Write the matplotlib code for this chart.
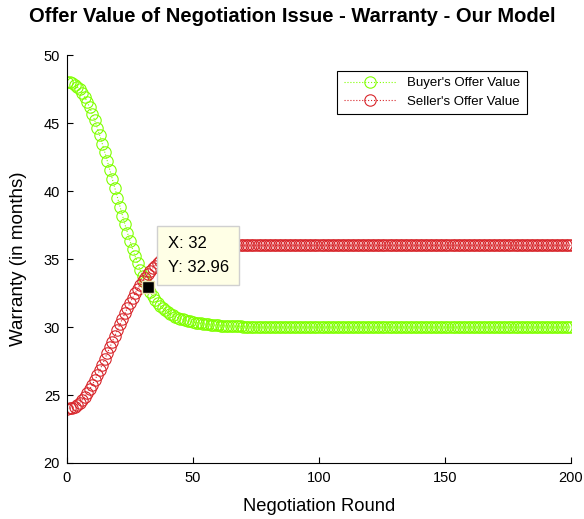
import numpy as np
import matplotlib
matplotlib.use("Agg")
import matplotlib.pyplot as plt

plt.rcParams['font.family'] = ['Liberation Sans', 'DejaVu Sans']

# negotiation rounds and offer values
rounds = list(range(0, 201))

buyer_transition = [
    48.00, 47.99, 47.93, 47.83, 47.68, 47.48, 47.23, 46.92, 46.56, 46.15,
    45.70, 45.20, 44.66, 44.09, 43.49, 42.86, 42.21, 41.54, 40.87, 40.19,
    39.52, 38.85, 38.19, 37.55, 36.92, 36.33, 35.75, 35.21, 34.69, 34.20,
    33.75, 33.33, 32.96, 32.59, 32.27, 31.98, 31.76, 31.56, 31.38, 31.22,
    31.08, 30.96, 30.86, 30.77, 30.69, 30.62, 30.56, 30.50, 30.45, 30.41,
    30.37, 30.33, 30.30, 30.27, 30.24, 30.22, 30.20, 30.18, 30.16, 30.14,
    30.13, 30.11, 30.10, 30.09, 30.08, 30.07, 30.06, 30.05, 30.04, 30.04,
    30.03, 30.03, 30.02, 30.02, 30.02, 30.01]
buyer_offer = buyer_transition + [30.0] * (len(rounds) - len(buyer_transition))

seller_transition = [
    24.00, 24.02, 24.07, 24.15, 24.28, 24.44, 24.64, 24.87, 25.13, 25.42,
    25.74, 26.08, 26.45, 26.83, 27.23, 27.65, 28.07, 28.50, 28.92, 29.35,
    29.78, 30.20, 30.61, 31.01, 31.40, 31.77, 32.13, 32.47, 32.79, 33.09,
    33.38, 33.64, 33.89, 34.12, 34.33, 34.52, 34.69, 34.85, 35.00, 35.12,
    35.24, 35.34, 35.43, 35.51, 35.58, 35.64, 35.70, 35.74, 35.79, 35.82,
    35.85, 35.88, 35.90, 35.92, 35.93, 35.95, 35.96, 35.97, 35.97, 35.98,
    35.98]
seller_offer = seller_transition + [36.0] * (len(rounds) - len(seller_transition))

tip_round = 32

fig = plt.figure(figsize=(5.84, 5.19), dpi=100)
ax = fig.add_axes([0.1147, 0.1079, 0.863, 0.786])

green = '#80ff00'
red = '#d8262b'
ax.plot(rounds, buyer_offer, linestyle=':', color=green, linewidth=0.8,
        marker='o', markersize=8.2, markerfacecolor='none', markeredgewidth=0.8,
        label="Buyer's Offer Value")
ax.plot(rounds, seller_offer, linestyle=':', color=red, linewidth=0.8,
        marker='o', markersize=8.2, markerfacecolor='none', markeredgewidth=0.8,
        label="Seller's Offer Value")

# data tip
ty = buyer_offer[tip_round]
ax.plot([tip_round], [ty], marker='s', markersize=8, color='black',
        markeredgecolor='#e8e0b0', markeredgewidth=1.0, zorder=5)
ax.annotate(f"X: {tip_round}\nY: {ty:.2f}", xy=(tip_round, ty),
            xytext=(20, 12), textcoords='offset pixels', ha='left', va='bottom',
            fontsize=12, linespacing=1.7, zorder=6,
            bbox=dict(boxstyle='square,pad=0.62', facecolor='#ffffe6',
                      edgecolor='#d0d0d0', linewidth=1))

ax.set_xlim(0, 200)
ax.set_ylim(20, 50)
ax.set_xticks([0, 50, 100, 150, 200])
ax.set_yticks([20, 25, 30, 35, 40, 45, 50])
ax.tick_params(direction='in', length=4, labelsize=10.5)
ax.tick_params(axis='x', pad=6)
ax.tick_params(axis='y', pad=5)
ax.spines['top'].set_visible(False)
ax.spines['right'].set_visible(False)

ax.set_xlabel('Negotiation Round', fontsize=13.2, labelpad=9)
ax.set_ylabel('Warranty (in months)', fontsize=13.5, labelpad=12)
fig.text(0.5, 1 - 17 / 519, 'Offer Value of Negotiation Issue - Warranty - Our Model',
         fontsize=14.5, fontweight='bold', ha='center', va='center')

leg = ax.legend(loc='upper right', bbox_to_anchor=(0.926, 0.978), fontsize=9.5,
                fancybox=False, edgecolor='black', framealpha=1,
                handlelength=4.0, borderpad=0.5, labelspacing=0.45)
leg.get_frame().set_linewidth(0.8)

fig.savefig('out.png', dpi=100)
